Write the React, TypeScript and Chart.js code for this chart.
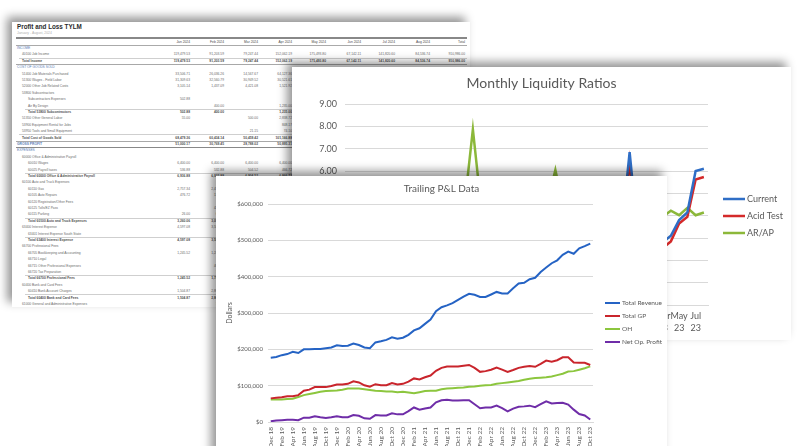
import React, { useEffect, useRef } from 'react';
import { Chart, registerables } from 'chart.js';

Chart.register(...registerables);

const FONT = 'Lato, "Open Sans", "Noto Sans", sans-serif';
const TABLE_FONT = '"Liberation Sans", Arial, sans-serif';

// ---------- Trailing P&L data (dollars) ----------
const plMonths = [
  'Dec 18',
  'Jan 19', 'Feb 19', 'Mar 19', 'Apr 19', 'May 19', 'Jun 19', 'Jul 19', 'Aug 19', 'Sep 19', 'Oct 19', 'Nov 19', 'Dec 19',
  'Jan 20', 'Feb 20', 'Mar 20', 'Apr 20', 'May 20', 'Jun 20', 'Jul 20', 'Aug 20', 'Sep 20', 'Oct 20', 'Nov 20', 'Dec 20',
  'Jan 21', 'Feb 21', 'Mar 21', 'Apr 21', 'May 21', 'Jun 21', 'Jul 21', 'Aug 21', 'Sep 21', 'Oct 21', 'Nov 21', 'Dec 21',
  'Jan 22', 'Feb 22', 'Mar 22', 'Apr 22', 'May 22', 'Jun 22', 'Jul 22', 'Aug 22', 'Sep 22', 'Oct 22', 'Nov 22', 'Dec 22',
  'Jan 23', 'Feb 23', 'Mar 23', 'Apr 23', 'May 23', 'Jun 23', 'Jul 23', 'Aug 23', 'Sep 23', 'Oct 23',
];
const totalRevenue = [
  177000, 179000, 184000, 187000, 193000, 190000, 200000, 200000, 201000, 201000, 203000, 205000, 211000,
  209000, 210000, 216000, 212000, 205000, 203000, 219000, 222000, 226000, 233000, 229000, 232000,
  240000, 252000, 258000, 270000, 282000, 305000, 316000, 321000, 327000, 336000, 345000, 353000,
  350000, 344000, 344000, 351000, 358000, 354000, 354000, 368000, 381000, 383000, 393000, 397000,
  413000, 425000, 437000, 445000, 460000, 469000, 463000, 478000, 484000, 491000,
];
const totalGP = [
  65000, 67000, 68000, 71000, 71000, 74000, 86000, 89000, 96000, 96000, 96000, 99000, 103000,
  103000, 105000, 112000, 109000, 101000, 97000, 104000, 101000, 101000, 107000, 103000, 105000,
  111000, 120000, 117000, 123000, 128000, 141000, 149000, 153000, 153000, 153000, 155000, 157000,
  149000, 138000, 140000, 144000, 150000, 144000, 138000, 143000, 149000, 152000, 154000, 152000,
  160000, 169000, 166000, 170000, 178000, 178000, 164000, 163000, 163000, 157000,
];
const overhead = [
  62000, 62000, 62000, 63000, 64000, 69000, 74000, 77000, 80000, 83000, 85000, 86000, 87000,
  89000, 92000, 92000, 92000, 90000, 88000, 86000, 85000, 84000, 84000, 82000, 83000,
  81000, 79000, 82000, 85000, 86000, 86000, 90000, 92000, 93000, 94000, 95000, 97000,
  98000, 100000, 101000, 102000, 105000, 107000, 109000, 111000, 113000, 116000, 119000, 121000,
  122000, 123000, 125000, 129000, 133000, 139000, 140000, 144000, 148000, 153000,
];
const netOpProfit = [
  2000, 4000, 5000, 6000, 6000, 5000, 12000, 12000, 16000, 13000, 11000, 13000, 16000,
  13000, 13000, 19000, 17000, 10000, 9000, 19000, 18000, 18000, 24000, 21000, 21000,
  30000, 40000, 34000, 37000, 40000, 54000, 60000, 61000, 59000, 59000, 60000, 60000,
  49000, 38000, 40000, 40000, 45000, 38000, 29000, 37000, 42000, 43000, 45000, 41000,
  49000, 57000, 51000, 52000, 53000, 48000, 34000, 22000, 18000, 7000,
];
const plYTicks = { min: 0, max: 600000, step: 100000 };

// ---------- Monthly liquidity ratios ----------
const liqMonths = [
  'Jan 20', 'Feb 20', 'Mar 20', 'Apr 20', 'May 20', 'Jun 20', 'Jul 20', 'Aug 20', 'Sep 20', 'Oct 20', 'Nov 20', 'Dec 20',
  'Jan 21', 'Feb 21', 'Mar 21', 'Apr 21', 'May 21', 'Jun 21', 'Jul 21', 'Aug 21', 'Sep 21', 'Oct 21', 'Nov 21', 'Dec 21',
  'Jan 22', 'Feb 22', 'Mar 22', 'Apr 22', 'May 22', 'Jun 22', 'Jul 22', 'Aug 22', 'Sep 22', 'Oct 22', 'Nov 22', 'Dec 22',
  'Jan 23', 'Feb 23', 'Mar 23', 'Apr 23', 'May 23', 'Jun 23', 'Jul 23', 'Aug 23',
];
const currentRatio = [
  2.6, 2.4, 2.2, 2.9, 3.1, 2.8, 2.7, 2.5, 2.6, 2.9, 3.0, 2.8,
  2.7, 2.9, 3.2, 3.0, 2.8, 2.6, 2.7, 2.9, 3.1, 3.3, 3.0, 2.8,
  2.6, 2.9, 3.1, 3.4, 3.2, 2.9, 2.7, 2.8, 3.0, 3.2, 6.85, 3.1,
  2.9, 2.7, 2.8, 3.1, 3.8, 4.15, 6.0, 6.1,
];
const acidTest = [
  2.3, 2.1, 1.9, 2.6, 2.8, 2.5, 2.4, 2.2, 2.3, 2.6, 2.7, 2.5,
  2.4, 2.6, 2.9, 2.7, 2.5, 2.3, 2.4, 2.6, 2.8, 3.0, 2.7, 2.5,
  2.3, 2.6, 2.8, 3.1, 2.9, 2.6, 2.4, 2.5, 2.7, 2.9, 6.4, 2.8,
  2.6, 2.4, 2.55, 2.85, 3.65, 3.95, 5.62, 5.73,
];
const arApRatio = [
  3.8, 4.1, 3.6, 4.4, 4.0, 3.7, 4.2, 4.5, 3.9, 4.3, 4.6, 4.1,
  3.8, 4.2, 4.5, 7.86, 4.4, 4.0, 3.7, 4.1, 4.3, 3.9, 4.2, 4.4,
  4.5, 6.05, 4.3, 4.0, 4.2, 4.4, 3.8, 4.1, 4.3, 3.9, 4.2, 4.0,
  3.8, 3.9, 3.95, 4.22, 4.02, 4.35, 4.02, 4.14,
];
const liqYTicks = { min: 0, max: 9, step: 1 };

// ---------- Profit and Loss table ----------
const tableTitle = 'Profit and Loss TYLM';
const tableSubtitle = 'January - August, 2024';
const tableColumns = ['Jan 2024', 'Feb 2024', 'Mar 2024', 'Apr 2024', 'May 2024', 'Jun 2024', 'Jul 2024', 'Aug 2024', 'Total'];
const rowLabels = [
  'INCOME', '40100 Job Income', 'Total Income', 'COST OF GOODS SOLD',
  '51400 Job Materials Purchased', '51300 Wages - Field Labor', '52000 Other Job Related Costs', '53800 Subcontractors',
  'Subcontractors Expenses', 'Air By Design', 'Total 53800 Subcontractors', '51350 Other General Labor',
  '53900 Equipment Rental for Jobs', '53950 Tools and Small Equipment', 'Total Cost of Goods Sold', 'GROSS PROFIT',
  'EXPENSES', '60000 Office & Administrative Payroll', '60010 Wages', '60025 Payroll taxes',
  'Total 60000 Office & Administrative Payroll', '60100 Auto and Truck Expenses', '60110 Gas', '60105 Auto Repairs',
  '60120 Registration/Other Fees', '60125 Tolls/EZ Pass', '60115 Parking', 'Total 60100 Auto and Truck Expenses',
  '63400 Interest Expense', '63401 Interest Expense South State', 'Total 63400 Interest Expense', '66700 Professional Fees',
  '66705 Bookkeeping and Accounting', '66710 Legal', '66715 Other Professional Expenses', '66720 Tax Preparation',
  'Total 66700 Professional Fees', '60400 Bank and Card Fees', '60410 Bank Account Charges', 'Total 60400 Bank and Card Fees',
  '61000 General and Administrative Expenses',
];
// s = section, g = group, i = item, i2 = sub item, t = total, t2 = sub total, gp = gross profit
const rowKinds = [
  's', 'i', 't', 's', 'i', 'i', 'i', 'g', 'i2', 'i2', 't2', 'i', 'i', 'i', 't', 'gp',
  's', 'g', 'i2', 'i2', 't2', 'g', 'i2', 'i2', 'i2', 'i2', 'i2', 't2', 'g', 'i2', 't2', 'g',
  'i2', 'i2', 'i2', 'i2', 't2', 'g', 'i2', 't2', 'g',
];
const rowValues: string[][] = [
  [],
  ['119,479.53', '91,203.59', '79,247.44', '152,062.19', '175,493.80', '67,142.11', '141,820.60', '84,536.74', '910,986.00'],
  ['119,479.53', '91,203.59', '79,247.44', '152,062.19', '175,493.80', '67,142.11', '141,820.60', '84,536.74', '910,986.00'],
  [],
  ['33,506.71', '26,036.26', '14,567.67', '64,127.36'],
  ['31,309.63', '32,560.79', '30,949.52', '30,521.61'],
  ['3,105.14', '1,437.09', '4,421.08', '1,521.92'],
  [],
  ['502.88'],
  ['', '400.00', '', '1,235.00'],
  ['502.88', '400.00', '', '1,235.00'],
  ['55.00', '', '500.00', '2,838.72'],
  ['', '', '', '848.17'],
  ['', '', '21.15', '74.10'],
  ['68,479.36', '60,434.14', '50,459.42', '101,166.88'],
  ['51,000.17', '30,769.45', '28,788.02', '50,895.31'],
  [],
  [],
  ['6,400.00', '6,400.00', '6,400.00', '6,400.00'],
  ['536.88', '532.88', '504.52', '466.72'],
  ['6,936.88', '6,932.88', '6,904.52', '6,866.72'],
  [],
  ['2,757.34', '2,475.18'],
  ['476.72', '135.00'],
  [],
  ['', '425.00'],
  ['26.00', '60.00'],
  ['3,260.06', '3,095.18'],
  ['4,597.08', '3,581.20'],
  [],
  ['4,597.08', '3,581.20'],
  [],
  ['1,245.52', '1,245.52'],
  [],
  ['', '465.00'],
  ['', '70.00'],
  ['1,245.52', '1,780.52'],
  [],
  ['1,504.87', '2,866.40'],
  ['1,504.87', '2,866.40'],
  ['', '74.00'],
];

// ---------- custom line legend plugin ----------
const lineLegendPlugin = {
  id: 'lineLegend',
  afterDraw(chart: any, _args: any, opts: any) {
    if (!opts || opts.x === undefined) return;
    const ctx = chart.ctx;
    ctx.save();
    ctx.font = `${opts.fontSize}px ${FONT}`;
    ctx.textBaseline = 'middle';
    ctx.textAlign = 'left';
    chart.data.datasets.forEach((ds: any, i: number) => {
      const y = opts.y + i * opts.spacing;
      ctx.strokeStyle = ds.borderColor;
      ctx.lineWidth = ds.borderWidth;
      ctx.beginPath();
      ctx.moveTo(opts.x, y);
      ctx.lineTo(opts.x + opts.lineLength, y);
      ctx.stroke();
      ctx.fillStyle = opts.color;
      ctx.fillText(ds.label, opts.x + opts.lineLength + opts.gap, y);
    });
    ctx.restore();
  },
};

const GRID = '#d9d9d9';
const TEXT = '#595959';

function plConfig(): any {
  const mk = (label: string, data: number[], color: string) => ({
    label, data, borderColor: color, backgroundColor: color, borderWidth: 2,
    pointRadius: 0, tension: 0, fill: false,
  });
  return {
    type: 'line',
    data: {
      labels: plMonths,
      datasets: [
        mk('Total Revenue', totalRevenue, '#2563c4'),
        mk('Total GP', totalGP, '#c9252c'),
        mk('OH', overhead, '#8cc63e'),
        mk('Net Op. Profit', netOpProfit, '#6f2da8'),
      ],
    },
    options: {
      responsive: false,
      animation: false,
      devicePixelRatio: 1,
      layout: { padding: 0 },
      plugins: {
        legend: { display: false },
        tooltip: { enabled: false },
        title: {
          display: true, text: 'Trailing P&L Data', color: TEXT,
          font: { family: FONT, size: 10, weight: 'normal', lineHeight: 1.2 },
          padding: { top: 7, bottom: 9 },
        },
        lineLegend: { x: 389, y: 127, spacing: 13, lineLength: 15, gap: 2, fontSize: 6.5, color: TEXT },
      },
      scales: {
        x: {
          type: 'category', offset: true,
          grid: { display: false, drawTicks: false },
          border: { display: true, color: GRID },
          ticks: {
            autoSkip: false, minRotation: 90, maxRotation: 90, padding: 5, color: TEXT,
            font: { family: FONT, size: 6.5 },
            callback: (_v: any, i: number) => (i % 2 === 0 ? plMonths[i] : ''),
          },
          afterFit: (s: any) => { s.height = 48; },
        },
        y: {
          min: plYTicks.min, max: plYTicks.max,
          grid: { color: GRID, drawTicks: false },
          border: { display: false },
          ticks: {
            stepSize: plYTicks.step, padding: 5, color: TEXT, font: { family: FONT, size: 6 },
            callback: (v: any) => '$' + Number(v).toLocaleString('en-US'),
          },
          title: {
            display: true, text: 'Dollars', color: TEXT,
            font: { family: FONT, size: 7, lineHeight: 1.2 }, padding: { top: 10, bottom: 0 },
          },
          afterFit: (s: any) => { s.width = 52; },
        },
        pad: {
          type: 'linear', position: 'right', display: true,
          grid: { display: false, drawTicks: false }, border: { display: false }, ticks: { display: false },
          afterFit: (s: any) => { s.width = 74; },
        },
      },
    },
    plugins: [lineLegendPlugin],
  };
}

function liqConfig(): any {
  const mk = (label: string, data: number[], color: string) => ({
    label, data, borderColor: color, backgroundColor: color, borderWidth: 2.5,
    pointRadius: 0, tension: 0, fill: false,
  });
  return {
    type: 'line',
    data: {
      labels: liqMonths,
      datasets: [
        mk('Current', currentRatio, '#2f6ec6'),
        mk('Acid Test', acidTest, '#d42a2a'),
        mk('AR/AP', arApRatio, '#8cb83a'),
      ],
    },
    options: {
      responsive: false,
      animation: false,
      devicePixelRatio: 1,
      layout: { padding: 0 },
      plugins: {
        legend: { display: false },
        tooltip: { enabled: false },
        title: {
          display: true, text: 'Monthly Liquidity Ratios', color: TEXT,
          font: { family: FONT, size: 14, weight: 'normal', lineHeight: 1.2 },
          padding: { top: 7.6, bottom: 12.6 },
        },
        lineLegend: { x: 431, y: 132, spacing: 17, lineLength: 22, gap: 2, fontSize: 9, color: TEXT },
      },
      scales: {
        x: {
          type: 'category', offset: true,
          grid: { display: false, drawTicks: false },
          border: { display: true, color: GRID },
          ticks: {
            autoSkip: false, minRotation: 0, maxRotation: 0, padding: 5, color: TEXT,
            font: { family: FONT, size: 9, lineHeight: '12px' },
            callback: (_v: any, i: number) => (i % 2 === 0 ? liqMonths[i].split(' ') : ''),
          },
          afterFit: (s: any) => { s.height = 35; },
        },
        y: {
          min: liqYTicks.min, max: liqYTicks.max,
          grid: { color: GRID, drawTicks: false },
          border: { display: false },
          ticks: {
            stepSize: liqYTicks.step, padding: 8, color: TEXT, font: { family: FONT, size: 9 },
            callback: (v: any) => Number(v).toFixed(2),
          },
          afterFit: (s: any) => { s.width = 53; },
        },
        pad: {
          type: 'linear', position: 'right', display: true,
          grid: { display: false, drawTicks: false }, border: { display: false }, ticks: { display: false },
          afterFit: (s: any) => { s.width = 83; },
        },
      },
    },
    plugins: [lineLegendPlugin],
  };
}

function ChartCanvas({ make, width, height }: { make: () => any; width: number; height: number }) {
  const ref = useRef<HTMLCanvasElement>(null);
  useEffect(() => {
    const chart = new Chart(ref.current as HTMLCanvasElement, make());
    return () => chart.destroy();
  }, []);
  return <canvas ref={ref} width={width} height={height} style={{ display: 'block', width, height }} />;
}

const SHADOW = '-5px -5px 9px rgba(0,0,0,0.42)';

function Panel({ left, top, width, height, z, children }: any) {
  return (
    <div
      style={{
        position: 'absolute', left, top, width, height, background: '#fff',
        boxShadow: SHADOW, zIndex: z, overflow: 'visible',
      }}
    >
      {children}
    </div>
  );
}

// table geometry (panel-local)
const T_LEFT = 12;
const T_TOP = 22;
const T_W = 458;
const colRights = [190, 224, 258, 292, 326, 361, 395, 430, 465];
const ROW0 = 48;
const ROW_H = 6.4;
const indentOf: Record<string, number> = { s: 17, g: 22, i: 22, i2: 28, t: 22, t2: 28, gp: 17 };

function TablePanel() {
  const fs = 3.3;
  const items: any[] = [];
  const line = (key: string, y: number, x1: number, x2: number, color: string) =>
    items.push(
      <div key={key} style={{ position: 'absolute', left: x1 - T_LEFT, top: y - T_TOP, width: x2 - x1, height: 0, borderTop: `1px solid ${color}` }} />
    );
  const text = (key: string, s: string, cy: number, opts: any) =>
    items.push(
      <div
        key={key}
        style={{
          position: 'absolute', top: cy - 3 - T_TOP, height: 6, lineHeight: '6px', whiteSpace: 'nowrap',
          fontFamily: TABLE_FONT, fontSize: fs, color: '#6a6a6a', ...opts,
        }}
      >
        {s}
      </div>
    );
  // header
  text('title', tableTitle, 27, { left: 17 - T_LEFT, fontSize: 6.3, fontWeight: 'bold', color: '#2a2a2a', height: 8, lineHeight: '8px', top: 23 - T_TOP });
  text('sub', tableSubtitle, 33, { left: 17 - T_LEFT, fontSize: 3.4, color: '#b0b0b0' });
  line('dl1', 36.5, 16, 467, '#888');
  line('dl2', 38, 16, 467, '#888');
  tableColumns.forEach((c, j) =>
    text('h' + j, c, 42, { right: T_W - (colRights[j] - T_LEFT), textAlign: 'right', color: '#4a4a4a' })
  );
  line('hl', 44.5, 16, 467, '#aaa');
  rowLabels.forEach((lab, i) => {
    const cy = ROW0 + i * ROW_H;
    const k = rowKinds[i];
    const bold = k === 't' || k === 't2' || k === 'gp';
    const color = k === 's' || k === 'gp' ? '#5a7db5' : bold ? '#505050' : '#6a6a6a';
    text('l' + i, lab, cy, { left: indentOf[k] - T_LEFT, fontWeight: bold ? 'bold' : 'normal', color });
    (rowValues[i] || []).forEach((v, j) => {
      if (!v) return;
      text(`v${i}_${j}`, v, cy, {
        right: T_W - (colRights[j] - T_LEFT), textAlign: 'right',
        fontWeight: bold ? 'bold' : 'normal', color: bold ? '#505050' : '#6a6a6a',
      });
    });
    if (k === 't' || k === 't2') line('lt' + i, cy - 3.2, indentOf[k] - 3, 467, '#cfcfcf');
    if (k === 't') line('lb' + i, cy + 3.2, 16, 467, '#a8a8a8');
    if (k === 'gp') line('lg' + i, cy + 3.2, 16, 467, '#888');
  });
  return (
    <Panel left={T_LEFT} top={T_TOP} width={T_W} height={285} z={1}>
      {items}
    </Panel>
  );
}

export default function App() {
  return (
    <div
      style={{
        position: 'fixed', left: 0, top: 0, width: 797, height: 446, overflow: 'hidden', background: '#fff',
      }}
    >
      <TablePanel />
      <Panel left={292} top={67} width={499} height={273} z={2}>
        <ChartCanvas make={liqConfig} width={499} height={273} />
      </Panel>
      <Panel left={216} top={176} width={451} height={294} z={3}>
        <ChartCanvas make={plConfig} width={451} height={294} />
      </Panel>
    </div>
  );
}
